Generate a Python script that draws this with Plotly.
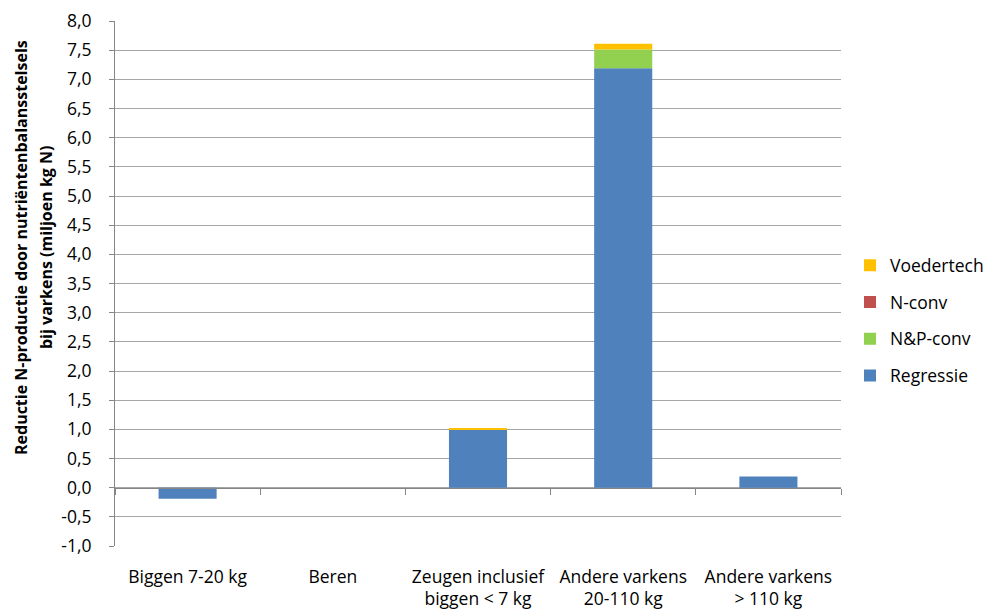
import plotly.graph_objects as go

categories = ["Biggen 7-20 kg", "Beren", "Zeugen inclusief<br>biggen < 7 kg",
              "Andere varkens<br>20-110 kg", "Andere varkens<br>> 110 kg"]
regressie = [-0.19, 0.0, 1.0, 7.19, 0.19]
np_conv = [0.0, 0.0, 0.0, 0.32, 0.0]
n_conv = [0.0, 0.0, 0.0, 0.0, 0.0]
voedertech = [0.0, 0.0, 0.02, 0.10, 0.0]
y_ticks = [i * 0.5 for i in range(-2, 17)]
y_labels = [f"{v:.1f}".replace(".", ",") for v in y_ticks]
y_title = ["Reductie N-productie door nutriëntenbalansstelsels",
           "bij varkens (miljoen kg N)"]

font = "'Open Sans', sans-serif"

fig = go.Figure()
series = [("Regressie", regressie, "#4F81BD"),
          ("N&P-conv", np_conv, "#92D050"),
          ("N-conv", n_conv, "#C0504D"),
          ("Voedertech", voedertech, "#FFC000")]
for i, (naam, vals, kleur) in enumerate(series):
    fig.add_trace(go.Bar(x=categories, y=vals, name=naam, marker_color=kleur,
                         marker_line_width=0, legendgroup=str(i), legendrank=10 - i))

# as-lijn op nul met streepjes tussen categorieën
fig.add_trace(go.Scatter(x=categories, y=[None] * 5, xaxis="x2", showlegend=False,
                         hoverinfo="skip"))

# y-as titel als twee losse regels (zoals Excel)
for regel, shift in zip(y_title, [-94, -69]):
    fig.add_annotation(text=f"<b>{regel}</b>", xref="paper", yref="paper",
                       x=0, y=0.5676, xshift=shift, xanchor="center", yanchor="middle",
                       textangle=-90, showarrow=False,
                       font=dict(size=16, family=font, color="black"))

fig.update_layout(
    barmode="relative",
    bargap=0.6,
    width=984, height=601,
    margin=dict(l=107, r=151, t=13, b=63, autoexpand=False),
    plot_bgcolor="white", paper_bgcolor="white",
    font=dict(family=font, size=17.5, color="black"),
    xaxis=dict(showline=False, ticks="", tickfont=dict(size=17.5), automargin=False,
               ticklabelstandoff=18),
    xaxis2=dict(overlaying="x", anchor="free", position=1 / 9, showline=True,
                linecolor="#868686", linewidth=1, ticks="outside", ticklen=6,
                tickcolor="#868686", tickson="boundaries", showticklabels=False,
                showgrid=False, matches="x"),
    yaxis=dict(range=[-1, 8], tickvals=y_ticks, ticktext=y_labels, automargin=False,
               showgrid=True, gridcolor="#A6A6A6", gridwidth=1,
               showline=True, linecolor="#868686", ticks="outside", ticklen=5,
               tickcolor="#868686", zeroline=False, tickfont=dict(size=17.5),
               ticklabelstandoff=14),
    legend=dict(x=1.0124, y=0.43, yanchor="middle", traceorder="grouped",
                tracegroupgap=11, font=dict(size=17.5), itemwidth=30),
    showlegend=True,
)

fig.write_html("out.html")
